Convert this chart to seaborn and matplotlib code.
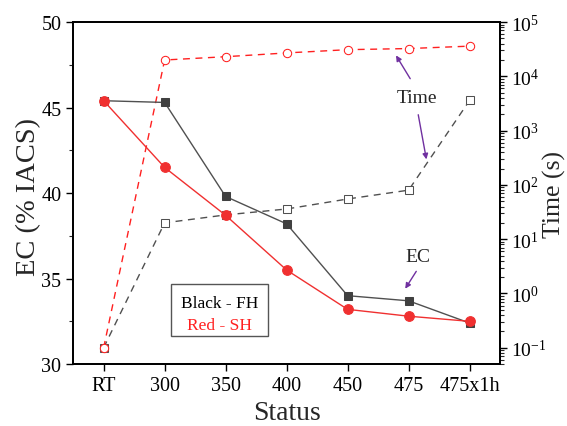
import matplotlib
matplotlib.use("Agg")
import matplotlib.pyplot as plt
import numpy as np
import pandas as pd
import seaborn as sns
from matplotlib.ticker import LogLocator, NullFormatter, MultipleLocator

# Processing states
status = ["RT", "300", "350", "400", "450", "475", "475x1h"]

# Electrical conductivity (% IACS)
ec_fh = [45.4, 45.3, 39.8, 38.2, 34.0, 33.7, 32.4]
ec_sh = [45.4, 41.5, 38.7, 35.5, 33.2, 32.8, 32.5]

# Time (s)
time_fh = [0.1, 20, 28, 36, 55, 80, 3600]
time_sh = [0.1, 20000, 23000, 27000, 31000, 32500, 36000]

sns.set_style("ticks")
plt.rcParams["font.family"] = ["Liberation Serif", "DejaVu Serif"]
plt.rcParams["mathtext.fontset"] = "stix"

pos = np.arange(len(status))
df = pd.DataFrame({"pos": pos, "ec_fh": ec_fh, "ec_sh": ec_sh,
                   "time_fh": time_fh, "time_sh": time_sh})

fig = plt.figure(figsize=(5.67, 4.27), dpi=100)
ax = fig.add_axes([0.129, 0.145, 0.753, 0.801])
ax2 = ax.twinx()

dark = "#404040"
red = "#F03030"

# EC curves (solid, filled markers)
sns.lineplot(data=df, x="pos", y="ec_fh", ax=ax, color="#505050", lw=1.0,
             marker="s", markersize=6, markerfacecolor=dark, markeredgecolor=dark,
             sort=False, zorder=4)
sns.lineplot(data=df, x="pos", y="ec_sh", ax=ax, color=red, lw=1.0,
             marker="o", markersize=7, markerfacecolor=red, markeredgecolor=red,
             sort=False, zorder=4)

# Time curves (dashed, open markers)
sns.lineplot(data=df, x="pos", y="time_fh", ax=ax2, color="#505050", lw=1.0,
             linestyle=(0, (5, 4)), marker="s", markersize=6,
             markerfacecolor="white", markeredgecolor="#505050", sort=False)
sns.lineplot(data=df, x="pos", y="time_sh", ax=ax2, color="#FF2020", lw=1.0,
             linestyle=(0, (5, 4)), marker="o", markersize=6,
             markerfacecolor="white", markeredgecolor="#FF2020", sort=False)

ax.set_xlim(-0.5, 6.5)
ax.set_ylim(30, 50)
ax.set_xticks(pos)
ax.set_xticklabels(status)
ax.yaxis.set_major_locator(MultipleLocator(5))
ax.yaxis.set_minor_locator(MultipleLocator(2.5))

ax2.set_yscale("log")
ax2.set_ylim(0.05, 1e5)
ax2.yaxis.set_major_locator(LogLocator(base=10, numticks=10))
ax2.yaxis.set_minor_locator(LogLocator(base=10, subs=np.arange(2, 10), numticks=20))
ax2.yaxis.set_minor_formatter(NullFormatter())

for a in (ax, ax2):
    for s in a.spines.values():
        s.set_linewidth(1.3)
        s.set_color("black")
    a.tick_params(axis="both", which="major", direction="out", length=5,
                  width=1.0, labelsize=14.5, colors="black")
    a.tick_params(axis="both", which="minor", direction="out", length=3, width=0.8)
    a.xaxis.get_offset_text().set_visible(False)
    a.yaxis.get_offset_text().set_visible(False)
ax.tick_params(axis="x", which="minor", bottom=False)
ax2.tick_params(axis="y", which="major", labelsize=14, pad=3)
ax2.set_xlabel("")

ax.set_xlabel("Status", fontsize=20, labelpad=4)
ax.set_ylabel("EC (% IACS)", fontsize=20.5)
ax.yaxis.set_label_coords(-0.075, 0.49)
ax2.set_ylabel("Time (s)", fontsize=18.5)
ax2.yaxis.set_label_coords(1.100, 0.5)

# Legend box describing colour coding
ax.text(1.9, 33.55, "Black - FH", fontsize=12.5, color="black", ha="center", va="center")
ax.text(1.9, 32.3, "Red - SH", fontsize=12.5, color="#FF2020", ha="center", va="center")
box = plt.Rectangle((1.1, 31.65), 1.59, 3.05, fill=False, edgecolor="#555555", lw=1.0,
                    transform=ax.transData, zorder=5)
ax.add_patch(box)

purple = "#7030A0"
arrow = dict(arrowstyle="-|>", color=purple, lw=1.0, mutation_scale=8)
# "Time" label with two arrows
ax.text(5.13, 45.6, "Time", fontsize=14, ha="center", va="center")
ax.annotate("", xy=(4.77, 48.19), xytext=(5.05, 46.55), arrowprops=arrow)
ax.annotate("", xy=(5.30, 41.81), xytext=(5.15, 44.74), arrowprops=arrow)
# "EC" label with arrow
ax.text(5.15, 36.3, "EC", fontsize=14, ha="center", va="center")
ax.annotate("", xy=(4.92, 34.27), xytext=(5.15, 35.56), arrowprops=arrow)

for a in (ax, ax2):
    a.set_facecolor("none")
ax.set_zorder(ax2.get_zorder() + 1)

fig.savefig("out.png", dpi=100, facecolor="white")
